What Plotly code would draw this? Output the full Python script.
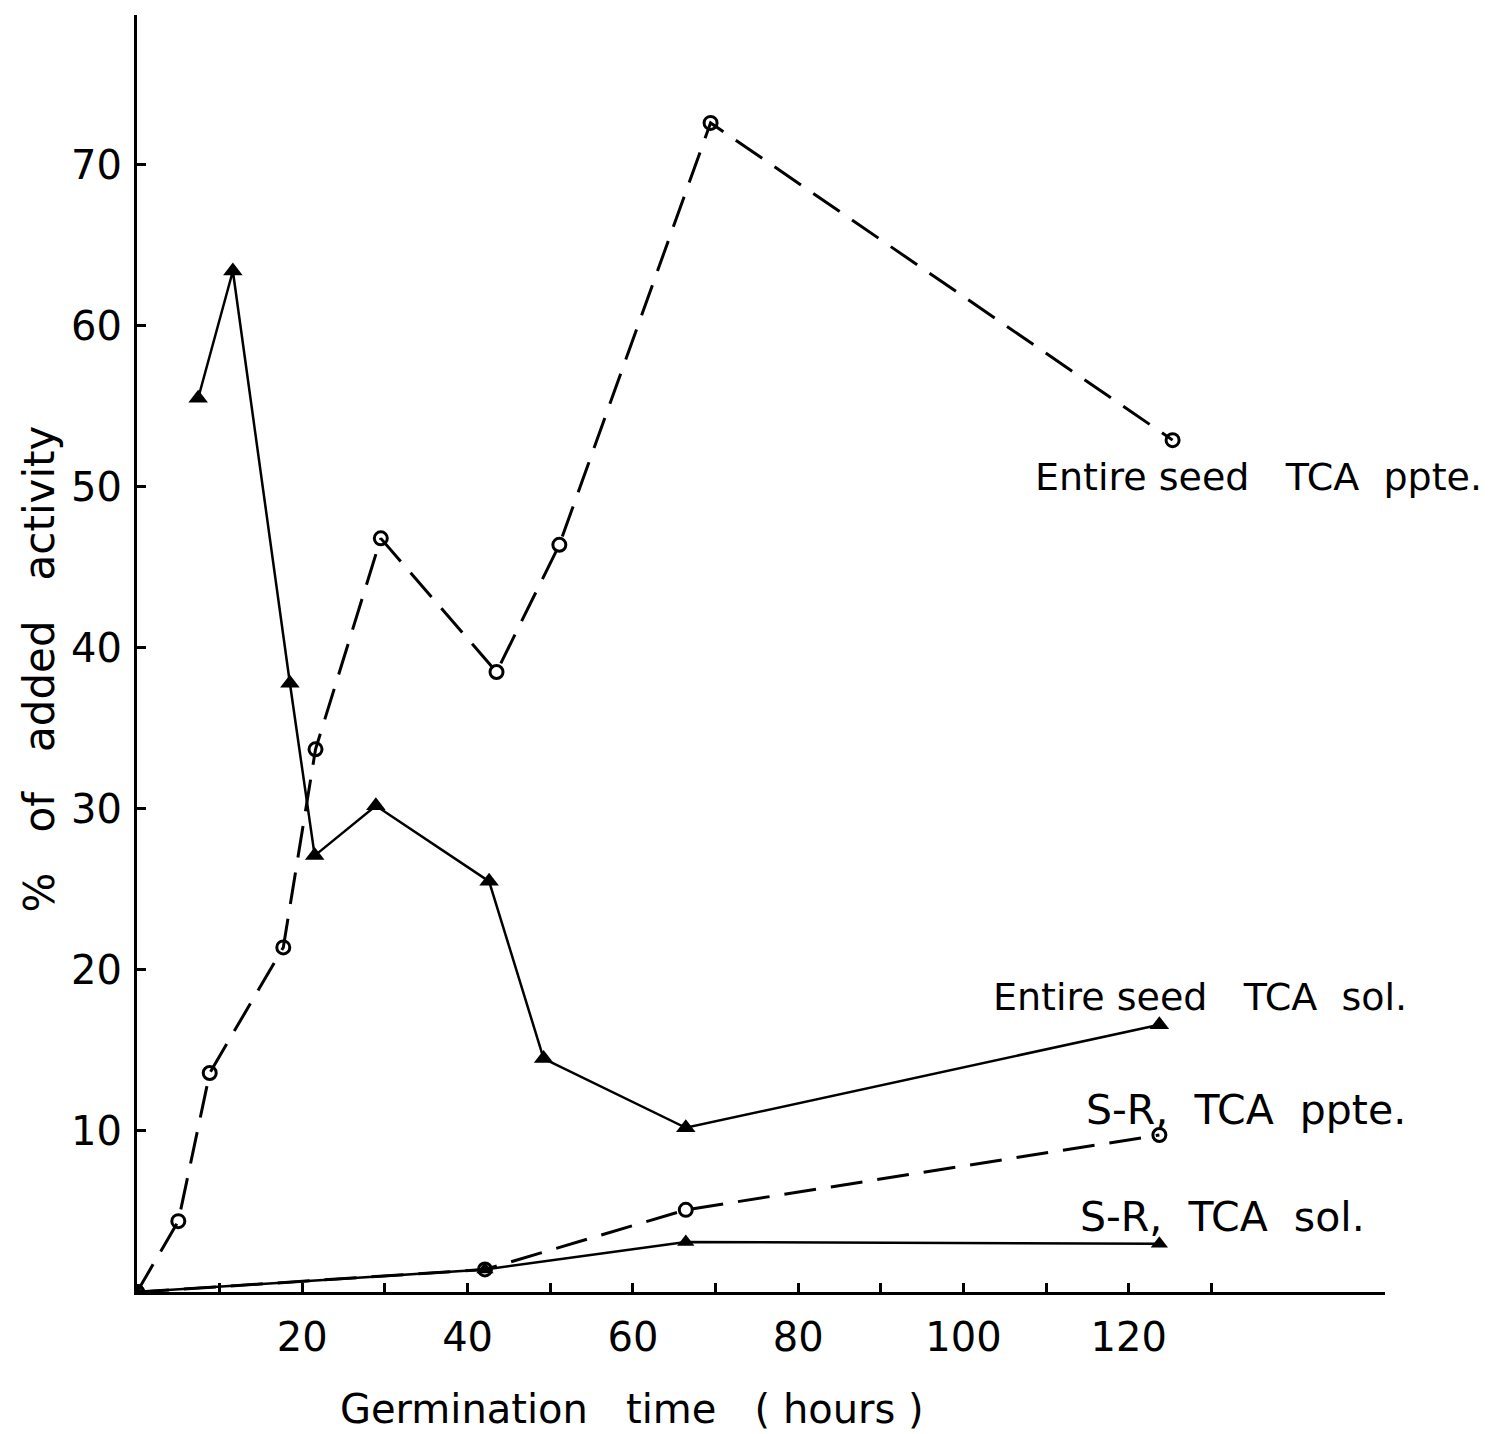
import plotly.graph_objects as go

# Data
es_ppte_x = [0, 5.0, 8.8, 17.7, 21.6, 29.5, 43.5, 51.1, 69.4, 125.3]
es_ppte_y = [0, 4.4, 13.6, 21.4, 33.7, 46.8, 38.5, 46.4, 72.6, 52.9]

es_sol_x = [7.4, 11.6, 18.5, 21.5, 28.9, 42.6, 49.2, 66.4, 123.7]
es_sol_y = [55.5, 63.4, 37.8, 27.1, 30.2, 25.5, 14.5, 10.2, 16.6]

sr_ppte_x = [0, 42.1, 66.4, 123.7]
sr_ppte_y = [0, 1.4, 5.1, 9.75]

sr_sol_x = [0, 42.1, 66.4, 123.7]
sr_sol_y = [0, 1.4, 3.1, 3.0]

x_tickvals = [10, 20, 30, 40, 50, 60, 70, 80, 90, 100, 110, 120, 130]
x_ticktext = ["", "20", "", "40", "", "60", "", "80", "", "100", "", "120", ""]
y_tickvals = [10, 20, 30, 40, 50, 60, 70]
y_ticktext = ["10", "20", "30", "40", "50", "60", "70"]

labels = ["Entire seed   TCA  ppte.", "Entire seed   TCA  sol.", "S-R,  TCA  ppte.", "S-R,  TCA  sol."]
label_x = [108.4, 103.3, 114.6, 113.8]
label_y = [50.6, 18.3, 11.3, 4.66]
label_size = [38, 38, 41, 41]

FONT = "DejaVu Sans"
fig = go.Figure()

dash = "32px,15px"
fig.add_trace(go.Scatter(x=sr_sol_x, y=sr_sol_y, mode="lines+markers",
                         line=dict(color="black", width=2.5),
                         marker=dict(symbol="triangle-up", size=15, color="black"),
                         showlegend=False))
fig.add_trace(go.Scatter(x=sr_ppte_x, y=sr_ppte_y, mode="lines+markers",
                         line=dict(color="black", width=3, dash=dash),
                         marker=dict(symbol="circle-open", size=13, color="black", line=dict(width=3)),
                         showlegend=False))
fig.add_trace(go.Scatter(x=es_sol_x, y=es_sol_y, mode="lines+markers",
                         line=dict(color="black", width=2.5),
                         marker=dict(symbol="triangle-up", size=17, color="black"),
                         showlegend=False))
fig.add_trace(go.Scatter(x=es_ppte_x, y=es_ppte_y, mode="lines+markers",
                         line=dict(color="black", width=3, dash=dash),
                         marker=dict(symbol="circle-open", size=13, color="black", line=dict(width=3)),
                         showlegend=False))

for t, x, y, s in zip(labels, label_x, label_y, label_size):
    fig.add_annotation(x=x, y=y, text=t, showarrow=False, xanchor="left", yanchor="middle",
                       font=dict(family=FONT, size=s, color="black"))

# axis titles placed as annotations to match the reference positions
fig.add_annotation(x=59.9, y=-0.092, xref="x", yref="paper", text="Germination   time   ( hours )",
                   showarrow=False, xanchor="center", yanchor="middle",
                   font=dict(family=FONT, size=40, color="black"))
fig.add_annotation(x=-0.078, y=0.488, xref="paper", yref="paper", text="%   of   added   activity",
                   textangle=-90, showarrow=False, xanchor="center", yanchor="middle",
                   font=dict(family=FONT, size=42, color="black"))

fig.update_layout(
    width=1496, height=1434,
    margin=dict(l=137, r=111, t=15, b=142),
    paper_bgcolor="white", plot_bgcolor="white",
    font=dict(family=FONT, color="black"),
)
fig.update_xaxes(range=[0, 151], showgrid=False, zeroline=False, showline=True,
                 linecolor="black", linewidth=3, ticks="inside", ticklen=9, tickwidth=3,
                 tickcolor="black", tickvals=x_tickvals, ticktext=x_ticktext,
                 tickfont=dict(family=FONT, size=40), ticklabelstandoff=8)
fig.update_yaxes(range=[0, 79.3], showgrid=False, zeroline=False, showline=True,
                 linecolor="black", linewidth=3, ticks="inside", ticklen=9, tickwidth=3,
                 tickcolor="black", tickvals=y_tickvals, ticktext=y_ticktext,
                 tickfont=dict(family=FONT, size=40), ticklabelstandoff=4)

fig.write_html("out.html")
